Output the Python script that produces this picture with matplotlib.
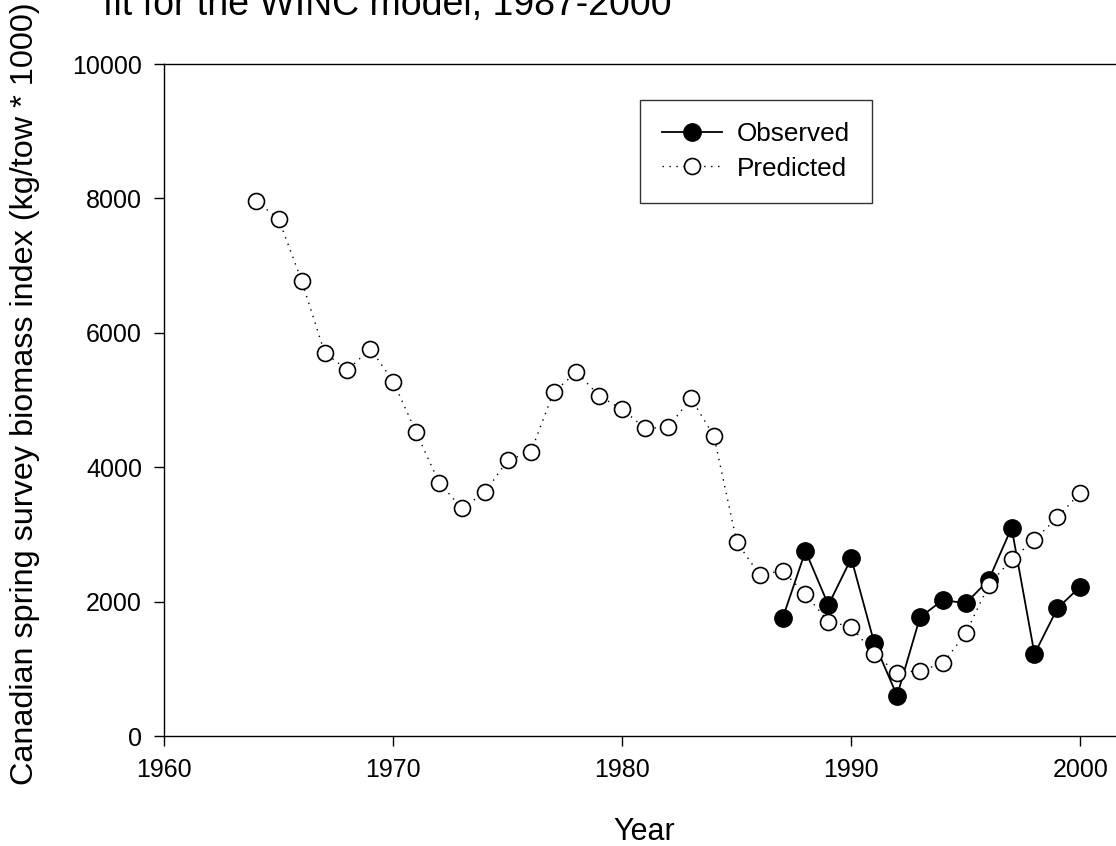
import numpy as np
import matplotlib
matplotlib.use("Agg")
import matplotlib.pyplot as plt

plt.rcParams['font.family'] = ['Liberation Sans', 'DejaVu Sans']

# predicted biomass index, 1964-2000
pred_years = list(range(1964, 2001))
pred_vals = [7966, 7689, 6771, 5704, 5446, 5764, 5273, 4519, 3770, 3388,
             3626, 4107, 4222, 5115, 5417, 5060, 4861, 4578, 4593, 5025,
             4464, 2886, 2396, 2460, 2108, 1701, 1627, 1220, 942, 972,
             1081, 1528, 2247, 2629, 2917, 3254, 3620]

# observed survey index, 1987-2000
obs_years = list(range(1987, 2001))
obs_vals = [1751, 2753, 1949, 2644, 1389, 600, 1766, 2024, 1975, 2321,
            3100, 1220, 1900, 2222]

W, H = 1116, 846
fig = plt.figure(figsize=(W / 100, H / 100), dpi=100)
ax = fig.add_axes([164.3 / W, 1 - 736 / H, 1 - 164.3 / W, (736 - 64) / H])

ax.plot(obs_years, obs_vals, color="black", lw=1.3, marker="o", ms=12.5,
        mfc="black", mec="black", label="Observed", zorder=2)
ax.plot(pred_years, pred_vals, color="black", lw=1.0, ls=(0, (1, 4)),
        marker="o", ms=11.5, mfc="white", mec="black", mew=1.2,
        label="Predicted", zorder=3)

ax.set_xlim(1960, 2001.56)
ax.set_ylim(0, 10000)
ax.set_xticks(np.arange(1960, 2001, 10))
ax.set_yticks(np.arange(0, 10001, 2000))
ax.tick_params(direction="out", length=7, width=1.0, labelsize=18, pad=9)
ax.spines["right"].set_visible(False)
for s in ["left", "bottom", "top"]:
    ax.spines[s].set_linewidth(1.0)

leg = ax.legend(loc="upper left", bbox_to_anchor=(640 / W, 1 - 100 / H),
                bbox_transform=fig.transFigure, borderaxespad=0,
                fontsize=18.8, frameon=True, fancybox=False, shadow=False,
                handlelength=2.3, handletextpad=0.57, labelspacing=0.4,
                borderpad=0.85)
leg.get_frame().set_edgecolor("black")
leg.get_frame().set_linewidth(1.0)

fig.text(103 / W, 1 - 15 / H, "fit for the WINC model, 1987-2000",
         fontsize=27, ha="left", va="baseline")
fig.text(25 / W, 1 - 394 / H,
         "Canadian spring survey biomass index (kg/tow * 1000)",
         fontsize=23.3, rotation=90, ha="center", va="center")
fig.text(644 / W, 1 - 840 / H, "Year", fontsize=22, ha="center",
         va="baseline")

fig.savefig("out.png", dpi=100)
